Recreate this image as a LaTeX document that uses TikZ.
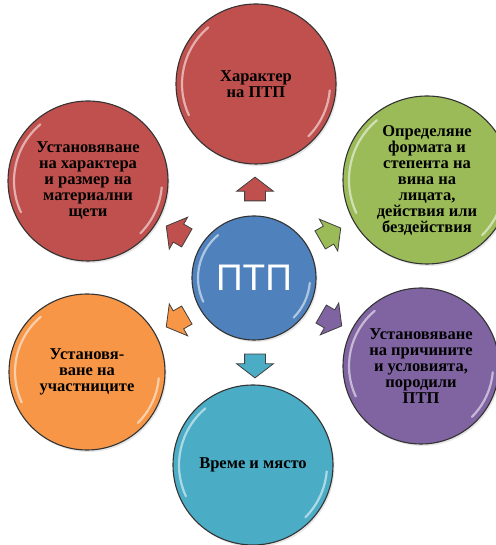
\documentclass[tikz,border=0pt]{standalone}
\usepackage{fontspec}
\setmainfont{Liberation Serif}
\newfontfamily\ptpfont{Liberation Sans}
\usepackage{tikz}
\usetikzlibrary{shapes.arrows}
\usetikzlibrary{shadows}
\usetikzlibrary{calc}

\definecolor{ptpblue}{RGB}{79,129,189}
\definecolor{ptpred}{RGB}{192,80,77}
\definecolor{ptpgreen}{RGB}{155,187,89}
\definecolor{ptppurple}{RGB}{128,100,162}
\definecolor{ptpteal}{RGB}{75,172,198}
\definecolor{ptporange}{RGB}{247,150,70}

\begin{document}
\begin{tikzpicture}[x=1pt,y=1pt,
  gloss/.style={white,opacity=0.55,line width=2.2pt,line cap=round},
  bubble/.style={circle,draw=black!80,line width=1.1pt,align=center,inner sep=0pt,
    font=\bfseries\fontsize{16.5}{16}\selectfont,
    drop shadow={opacity=0.2,shadow xshift=1.5pt,shadow yshift=-2pt},
    path picture={
      \draw[gloss] let \p1=(path picture bounding box.center),
                \p2=(path picture bounding box.east),
                \n1={\x2-\x1-6pt} in
        ($(\p1)+(205:\n1)$) arc[start angle=205,end angle=130,radius=\n1]
        ($(\p1)+(-5:\n1)$) arc[start angle=-5,end angle=-45,radius=\n1];
    }},
  blockarrow/.style={single arrow,draw=black!75,line width=0.8pt,inner sep=0pt,
    text width=15pt,text height=10pt,text depth=10pt,
    single arrow head extend=8pt,single arrow tip angle=105}]
  \useasboundingbox (0,0) rectangle (495,545);
  \node[bubble,fill=ptpblue,minimum size=124pt,text=white,
    font=\ptpfont\fontsize{37}{37}\selectfont] (ptp) at (254,267) {ПТП};
  \node[bubble,fill=ptpred,minimum size=160pt] (nature) at (256,461) {Характер\\на ПТП};
  \node[bubble,fill=ptpgreen,minimum size=168pt] (guilt) at (427,365)
    {Определяне\\формата и\\степента на\\вина на\\лицата,\\действия или\\бездействия};
  \node[bubble,fill=ptppurple,minimum size=156pt] (causes) at (421,179)
    {Установяване\\на причините\\и условията,\\породили\\ПТП};
  \node[bubble,fill=ptpteal,minimum size=160pt] (place) at (253,80) {Време и място};
  \node[bubble,fill=ptporange,minimum size=156pt] (people) at (87,173)
    {Установя-\\ване на\\участниците};
  \node[bubble,fill=ptpred,minimum size=160pt] (damage) at (88,364)
    {Установяване\\на характера\\и размер на\\материални\\щети};
  \node[blockarrow,fill=ptpred,rotate=90] (toNature) at (255,352) {};
  \node[blockarrow,fill=ptpgreen,rotate=30] (toGuilt) at (327,309) {};
  \node[blockarrow,fill=ptppurple,rotate=-30] (toCauses) at (328,227) {};
  \node[blockarrow,fill=ptpteal,rotate=-90] (toPlace) at (255,183) {};
  \node[blockarrow,fill=ptporange,rotate=210] (toPeople) at (180,226) {};
  \node[blockarrow,fill=ptpred,rotate=150] (toDamage) at (180,311) {};
\end{tikzpicture}
\end{document}
